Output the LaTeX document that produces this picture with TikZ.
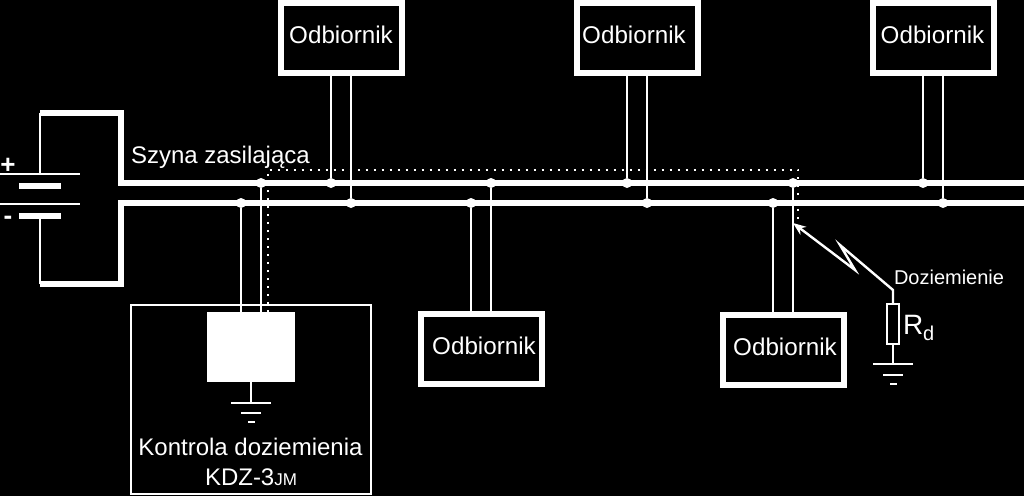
\documentclass[tikz,border=0pt]{standalone}
\usepackage{fontspec}
\setmainfont{Liberation Sans}
\usetikzlibrary{arrows.meta}
\tikzset{
  bus/.style={draw=white,line width=6pt,line join=miter},
  wire/.style={draw=white,line width=2.4pt},
  thinwire/.style={draw=white,line width=2pt},
  sense/.style={draw=white,line width=2pt,dash pattern=on 2pt off 6pt},
  recv/.style={draw=white,line width=6pt,fill=black,minimum width=121pt,minimum height=70pt,
     inner sep=0pt,outer sep=0pt,text=white,font=\fontsize{24.2}{28}\selectfont,text depth=6pt},
  junction/.style={circle,fill=white,inner sep=0pt,outer sep=0pt,minimum size=10pt},
  lbl/.style={text=white,inner sep=0pt,outer sep=0pt,font=\fontsize{24}{28}\selectfont},
  plateL/.style={draw=white,line width=2pt},
  plateS/.style={draw=white,line width=6pt},
}
\begin{document}
\begin{tikzpicture}[x=1pt,y=-1pt]
\useasboundingbox[fill=black] (0,0) rectangle (1024,496);
% named points
\coordinate (bTL) at (40,113);
\coordinate (bTR) at (120.5,113);
\coordinate (bBL) at (40,284);
\coordinate (bBR) at (120.5,284);
\coordinate (rail1) at (120.5,183);
\coordinate (rail2) at (120.5,203);
\coordinate (rail1e) at (1024,183);
\coordinate (rail2e) at (1024,203);
\coordinate (pl1a) at (0,173.5);
\coordinate (pl1b) at (80,173.5);
\coordinate (pl2a) at (19,186);
\coordinate (pl2b) at (61,186);
\coordinate (pl3a) at (0,203.7);
\coordinate (pl3b) at (80,203.7);
\coordinate (pl4a) at (19,215.5);
\coordinate (pl4b) at (61,215.5);
% frame and monitor
\node[draw=white,line width=2pt,minimum width=240pt,minimum height=189pt,inner sep=0pt,outer sep=0pt] (frame) at (251,399) {};
\node[fill=white,minimum width=87.5pt,minimum height=70pt,inner sep=0pt,outer sep=0pt] (mon) at (250.75,347) {};
% receivers
\node[recv] (r1) at (341,38) {Odbiornik};
\node[recv] (r2) at (637.5,38) {\hspace*{-7pt}Odbiornik};
\node[recv] (r3) at (933.5,38) {\hspace*{-2pt}Odbiornik};
\node[recv] (r4) at (481.5,349) {\hspace*{5pt}Odbiornik};
\node[recv] (r5) at (783,349.5) {\hspace*{4pt}Odbiornik};
% rails
\draw[bus] (bTL) -- (bTR) -- (rail1) -- (rail1e);
\draw[bus] (bBL) -- (bBR) -- (rail2) -- (rail2e);
% junctions
\node[junction] (a1) at (261,183) {};
\node[junction] (a2) at (331,183) {};
\node[junction] (a3) at (491,183) {};
\node[junction] (a4) at (627,183) {};
\node[junction] (a5) at (793,183) {};
\node[junction] (a6) at (923,183) {};
\node[junction] (c1) at (241,203) {};
\node[junction] (c2) at (351,203) {};
\node[junction] (c3) at (471,203) {};
\node[junction] (c4) at (647,203) {};
\node[junction] (c5) at (773,203) {};
\node[junction] (c6) at (943,203) {};
% battery
\draw[wire] (bTL) -- (bTL |- pl1a);
\draw[wire] (bBL) -- (bBL |- pl4a);
\draw[plateL] (pl1a) -- (pl1b);
\draw[plateS] (pl2a) -- (pl2b);
\draw[plateL] (pl3a) -- (pl3b);
\draw[plateS] (pl4a) -- (pl4b);
% wires
\draw[wire] (a2) -- (a2 |- r1.south);
\draw[wire] (c2) -- (c2 |- r1.south);
\draw[wire] (a4) -- (a4 |- r2.south);
\draw[wire] (c4) -- (c4 |- r2.south);
\draw[wire] (a6) -- (a6 |- r3.south);
\draw[wire] (c6) -- (c6 |- r3.south);
\draw[wire] (a3) -- (a3 |- r4.north);
\draw[wire] (c3) -- (c3 |- r4.north);
\draw[wire] (a5) -- (a5 |- r5.north);
\draw[wire] (c5) -- (c5 |- r5.north);
\draw[wire] (a1) -- (a1 |- mon.north);
\draw[wire] (c1) -- (c1 |- mon.north);
% sense line
\coordinate (s1) at (268,312);
\coordinate (s2) at (268,169.5);
\coordinate (s3) at (798,169.5);
\coordinate (s4) at (798,222);
\draw[sense] (s1) -- (s2) -- (s3) -- (s4);
% monitor earth
\coordinate (g1) at (251,403);
\draw[wire] (mon.south -| g1) -- (g1);
\draw[thinwire] (231,403) -- (271,403);
\draw[thinwire] (241,412.5) -- (261,412.5);
\draw[thinwire] (248,422) -- (255,422);
% fault
\coordinate (ft) at (793,223);
\coordinate (fa) at (855,270);
\coordinate (fb) at (840,245);
\coordinate (fc) at (893,290);
\node[draw=white,line width=2pt,minimum width=12.5pt,minimum height=40pt,inner sep=0pt,outer sep=0pt] (rd) at (893,324) {};
\coordinate (g2) at (893,364);
\draw[wire,line join=miter,-{Stealth[length=13pt,width=10pt]}] (rd.north) -- (fc) -- (fb) -- (fa) -- (ft);
\draw[wire] (rd.south) -- (g2);
\draw[thinwire] (873,364) -- (913,364);
\draw[thinwire] (883,374.5) -- (903,374.5);
\draw[thinwire] (890,384) -- (897,384);
% texts
\node[lbl,anchor=base west] (tbus) at (131,163) {Szyna zasilająca};
\node[lbl,anchor=base,font=\fontsize{26}{28}\selectfont\bfseries] (tplus) at (8,173) {+};
\node[lbl,anchor=base,font=\fontsize{26}{28}\selectfont\bfseries] (tminus) at (8,224) {-};
\node[lbl,anchor=base] (t1) at (250.5,455) {Kontrola doziemienia};
\node[lbl,anchor=base west] (t2) at (205,485) {KDZ-3{\fontsize{17}{19}\selectfont JM}};
\node[lbl,anchor=base west,font=\fontsize{20}{24}\selectfont] (t3) at (894,284) {Doziemienie};
\node[lbl,anchor=base west,font=\fontsize{28}{32}\selectfont] (t4) at (903,334) {R};
\node[lbl,anchor=base west,font=\fontsize{20}{24}\selectfont] (t5) at (923,340) {d};
\end{tikzpicture}
\end{document}
